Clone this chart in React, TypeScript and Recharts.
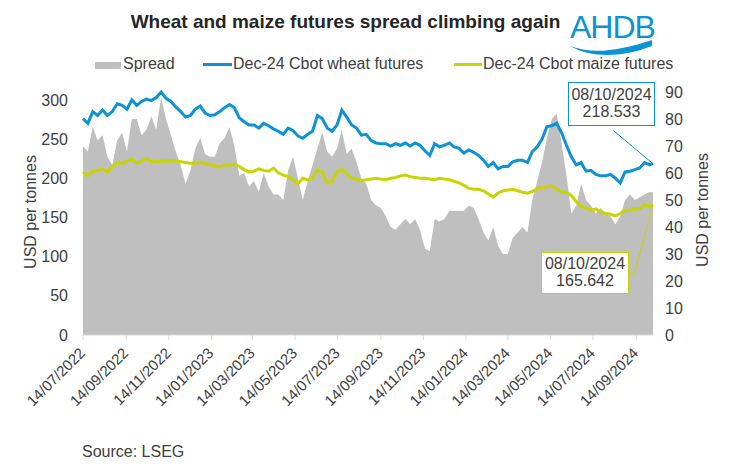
import { Area, ComposedChart, Line, ReferenceLine, XAxis, YAxis } from "recharts";

const DAY = 24 * 60 * 60 * 1000;
const START = Date.UTC(2022, 6, 14);
const LAST = Date.UTC(2024, 9, 8);

// weekly readings from 14/07/2022, last value is 08/10/2024
const wheatFutures = [
  276, 270, 285, 280, 287, 280, 285, 295, 293, 288,
  300, 293, 298, 301, 299, 303, 310, 302, 298, 291,
  285, 278, 280, 288, 292, 283, 280, 281, 285, 290,
  294, 290, 277, 272, 268, 268, 264, 270, 267, 263,
  260, 256, 264, 261, 254, 251, 256, 260, 280, 276,
  264, 260, 268, 287, 278, 268, 264, 255, 256, 248,
  245, 244, 244, 241, 244, 242, 245, 241, 245, 242,
  235, 229, 244, 240, 242, 245, 240, 238, 232, 236,
  233, 229, 223, 215, 220, 212, 215, 215, 221, 223,
  223, 220, 234, 240, 250, 266, 267, 270, 258, 242,
  227, 217, 220, 209, 210, 205, 203, 203, 205, 200,
  194, 208, 209, 211, 213, 220, 217, 218.533,
];

const maizeFutures = [
  208, 203, 209, 210, 212, 208, 215, 220, 219, 222,
  224, 219, 222, 225, 221, 221, 222, 222, 222, 222,
  221, 220, 219, 219, 220, 219, 217, 216, 214, 217,
  217, 218, 215, 211, 208, 209, 212, 210, 209, 213,
  207, 204, 202, 198, 193, 200, 198, 200, 211, 208,
  194, 196, 208, 211, 206, 200, 199, 197, 198, 199,
  200, 199, 198, 200, 201, 203, 204, 202, 201, 200,
  200, 199, 198, 200, 199, 198, 196, 194, 191, 187,
  186, 186, 184, 180, 176, 181, 184, 185, 186, 184,
  182, 181, 183, 187, 188, 189, 190, 186, 182, 182,
  178, 170, 164, 162, 159, 161, 157, 155, 154, 152,
  155, 159, 159, 161, 161, 166, 164, 165.642,
];

const spreadValues = [
  70, 68, 77, 72, 74, 66, 63, 72, 75, 68,
  80, 80, 74, 76, 81, 76, 88, 80, 74, 68,
  63, 56, 61, 69, 73, 67, 66, 66, 71, 73,
  77, 70, 59, 60, 55, 57, 53, 60, 55, 52,
  52, 50, 61, 66, 58, 50, 57, 63, 69, 75,
  68, 66, 69, 76, 67, 69, 64, 58, 56, 50,
  48, 47, 44, 40, 39, 41, 43, 41, 43, 39,
  32, 31, 43, 42, 43, 46, 46, 46, 46, 48,
  47, 43, 38, 35, 40, 33, 30, 30, 36, 38,
  40, 38, 50, 57, 64, 73, 80, 82, 71, 59,
  45, 48, 56, 50, 48, 45, 47, 45, 44, 41,
  44, 50, 52, 50, 51, 52, 53, 52.891,
];

const xTickLabels = [
  "14/07/2022", "14/09/2022", "14/11/2022", "14/01/2023", "14/03/2023",
  "14/05/2023", "14/07/2023", "14/09/2023", "14/11/2023", "14/01/2024",
  "14/03/2024", "14/05/2024", "14/07/2024", "14/09/2024",
];
const leftTicks = [0, 50, 100, 150, 200, 250, 300];
const rightTicks = [0, 10, 20, 30, 40, 50, 60, 70, 80, 90];

const BLUE = "#0a93d5";
const YELLOW = "#c9d400";
const GREY = "#bfbfbf";
const TEXT = "#404040";
const FONT = "'Liberation Sans', Arial, sans-serif";

const toTime = (s: string) => {
  const [d, m, y] = s.split("/").map(Number);
  return Date.UTC(y, m - 1, d);
};
const pad = (n: number) => (n < 10 ? "0" + n : "" + n);
const fmtDate = (t: number) => {
  const d = new Date(t);
  return `${pad(d.getUTCDate())}/${pad(d.getUTCMonth() + 1)}/${d.getUTCFullYear()}`;
};

const data = wheatFutures.map((w, i) => ({
  date: i === wheatFutures.length - 1 ? LAST : START + i * 7 * DAY,
  wheat: w,
  maize: maizeFutures[i],
  spread: spreadValues[i],
}));
const lastPoint = data[data.length - 1];

const DateTick = ({ x, y, payload }: any) => {
  const ax = x + 3;
  const ay = y + 12;
  return (
    <text
      x={ax}
      y={ay}
      transform={`rotate(-45 ${ax} ${ay})`}
      textAnchor="end"
      fontSize={15}
      fill={TEXT}
      fontFamily={FONT}
    >
      {fmtDate(payload.value)}
    </text>
  );
};

const abs = (left: number, top: number, extra: any = {}) => ({
  position: "absolute" as const,
  left,
  top,
  ...extra,
});

export default function App() {
  const axisTick = { fontSize: 16, fill: TEXT, fontFamily: FONT };
  return (
    <div style={{ position: "absolute", left: 0, top: 0, width: 729, height: 466, fontFamily: FONT, color: TEXT, background: "#fff" }}>
      <ComposedChart width={729} height={466} data={data} margin={{ top: 92, right: 0, bottom: 51, left: 0 }}>
        <XAxis
          dataKey="date"
          type="number"
          domain={[START, LAST]}
          ticks={xTickLabels.map(toTime)}
          interval={0}
          height={80}
          tick={<DateTick />}
          tickSize={5}
          tickMargin={2}
          axisLine={{ stroke: "#d9d9d9" }}
          tickLine={{ stroke: "#d9d9d9" }}
        />
        <YAxis
          yAxisId="left"
          domain={[0, 300]}
          ticks={leftTicks}
          width={83}
          axisLine={false}
          tickLine={false}
          tickSize={0}
          tickMargin={15}
          tick={axisTick}
        />
        <YAxis
          yAxisId="right"
          orientation="right"
          domain={[0, 90]}
          ticks={rightTicks}
          width={76}
          axisLine={false}
          tickLine={false}
          tickSize={0}
          tickMargin={12}
          tick={axisTick}
        />
        <Area
          yAxisId="right"
          type="linear"
          dataKey="spread"
          fill={GREY}
          fillOpacity={1}
          stroke="none"
          isAnimationActive={false}
        />
        <Line yAxisId="left" type="linear" dataKey="wheat" stroke={BLUE} strokeWidth={3} dot={false} isAnimationActive={false} />
        <Line yAxisId="left" type="linear" dataKey="maize" stroke={YELLOW} strokeWidth={3} dot={false} isAnimationActive={false} />
        <ReferenceLine
          yAxisId="left"
          ifOverflow="visible"
          stroke={BLUE}
          strokeWidth={1}
          segment={[{ x: START + 760 * DAY, y: 261 }, { x: lastPoint.date, y: lastPoint.wheat }]}
        />
        <ReferenceLine
          yAxisId="left"
          ifOverflow="visible"
          stroke={YELLOW}
          strokeWidth={1}
          segment={[{ x: START + 783 * DAY, y: 78 }, { x: START + 790 * DAY, y: 78 }]}
        />
        <ReferenceLine
          yAxisId="left"
          ifOverflow="visible"
          stroke={YELLOW}
          strokeWidth={1}
          segment={[{ x: START + 790 * DAY, y: 78 }, { x: lastPoint.date, y: lastPoint.maize }]}
        />
      </ComposedChart>

      <div style={abs(0, 11, { width: 691, textAlign: "center", fontSize: 19, fontWeight: "bold", color: "#262626", lineHeight: "22px" })}>
        Wheat and maize futures spread climbing again
      </div>

      <svg style={abs(566, 6)} width={92} height={50}>
        <text x={4} y={32} fontSize={32} fill={BLUE} fontFamily={FONT} letterSpacing={-1}>AHDB</text>
        <path d="M4 40 C 25 48, 50 46, 86 34 L 86 40 C 55 52, 25 52, 4 40 Z" fill={BLUE} />
      </svg>

      <div style={abs(95, 62, { width: 26, height: 7, background: GREY })} />
      <div style={abs(123, 55, { fontSize: 16, lineHeight: "18px" })}>Spread</div>
      <div style={abs(203, 63, { width: 29, height: 3, background: BLUE })} />
      <div style={abs(233, 55, { fontSize: 16, lineHeight: "18px" })}>Dec-24 Cbot wheat futures</div>
      <div style={abs(454, 63, { width: 28, height: 3, background: YELLOW })} />
      <div style={abs(483, 55, { fontSize: 16, lineHeight: "18px" })}>Dec-24 Cbot maize futures</div>

      <div style={abs(24, 212, { width: 0, height: 0 })}>
        <div style={{ position: "absolute", left: 0, top: 0, transform: "translate(-50%, -50%) rotate(-90deg)", whiteSpace: "nowrap", fontSize: 16, lineHeight: "18px", marginLeft: 7 }}>
          USD per tonnes
        </div>
      </div>
      <div style={abs(696, 210, { width: 0, height: 0 })}>
        <div style={{ position: "absolute", left: 0, top: 0, transform: "translate(-50%, -50%) rotate(-90deg)", whiteSpace: "nowrap", fontSize: 16, lineHeight: "18px", marginLeft: 7 }}>
          USD per tonnes
        </div>
      </div>

      <div style={abs(568, 82, { width: 85, height: 39, border: `1px solid ${BLUE}`, background: "#fff", textAlign: "center", fontSize: 16, lineHeight: "17px", paddingTop: 3, boxSizing: "content-box" as const })}>
        08/10/2024
        <br />
        218.533
      </div>
      <div style={abs(541, 252, { width: 86, height: 38, border: `1px solid ${YELLOW}`, background: "#fff", textAlign: "center", fontSize: 16, lineHeight: "17px", paddingTop: 2, boxSizing: "content-box" as const })}>
        08/10/2024
        <br />
        165.642
      </div>

      <div style={abs(82, 443, { fontSize: 16, lineHeight: "18px" })}>Source: LSEG</div>
    </div>
  );
}
